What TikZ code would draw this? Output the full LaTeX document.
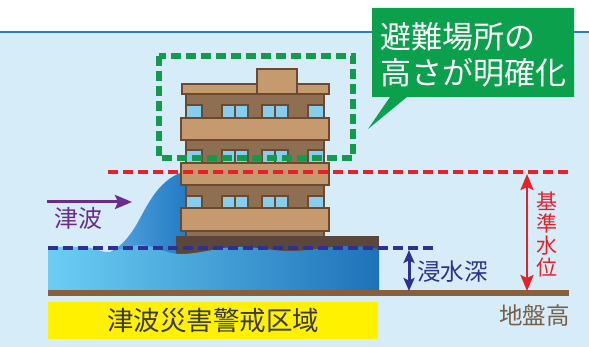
\documentclass[tikz,border=0pt]{standalone}
\usepackage{fontspec}
\newfontfamily\jp{Noto Sans CJK JP}
\usetikzlibrary{arrows.meta}
\definecolor{sky}{HTML}{D6ECF9}
\definecolor{topline}{HTML}{2A7EC7}
\definecolor{calloutgreen}{HTML}{0AA04C}
\definecolor{dashgreen}{HTML}{129B4A}
\definecolor{levelred}{HTML}{E8202A}
\definecolor{navy}{HTML}{2E3192}
\definecolor{wavepurple}{HTML}{6A2C8E}
\definecolor{ground}{HTML}{8B5E3C}
\definecolor{groundtext}{HTML}{76604A}
\definecolor{zone}{HTML}{FFF100}
\definecolor{zonetext}{HTML}{3A3A3A}
\definecolor{slabtan}{HTML}{C49A6E}
\definecolor{walltan}{HTML}{8E6F52}
\definecolor{edgebrown}{HTML}{6B4A32}
\definecolor{basebrown}{HTML}{5A463A}
\definecolor{glass}{HTML}{86CDEE}
\definecolor{waterL}{HTML}{6CCEF4}
\definecolor{waterR}{HTML}{1E72B9}
\definecolor{waveL}{HTML}{5AAAE2}
\definecolor{waveR}{HTML}{1B74BF}
\begin{document}
\begin{tikzpicture}[x=1pt,y=-1pt,
  slab/.style={fill=slabtan, draw=edgebrown, line width=2.8pt},
  wall/.style={fill=walltan, draw=edgebrown, line width=2.8pt},
  pane/.style={fill=glass, draw=edgebrown, line width=2.4pt},
  levelline/.style={line width=4.3pt, dash pattern=on 10pt off 5pt},
  label/.style={inner sep=0pt, font=\jp},
  tip/.style={-{Stealth[length=17pt,width=14pt,inset=3pt]}},
  redtips/.style={{Stealth[length=16pt,width=13pt,inset=3pt]}-{Stealth[length=16pt,width=13pt,inset=3pt]}},
  navytips/.style={{Stealth[length=13pt,width=11pt,inset=2.5pt]}-{Stealth[length=13pt,width=11pt,inset=2.5pt]}}]
\useasboundingbox (0,0) rectangle (589,347);
% sky and top rule
\fill[white] (0,0) rectangle (589,32);
\fill[sky] (0,32) rectangle (589,347);
\draw[topline, line width=2.8pt] (0,32) -- (589,32);

% breaking wave behind the building
\shade[left color=waveL, right color=waveR]
  (100,256) .. controls (116,252) and (128,240) .. (138,222)
  .. controls (149,202) and (160,178) .. (186,171)
  -- (200,171) -- (200,262) -- cycle;

% building
\draw[wall] (186,93) rectangle (324,237);
\draw[slab] (182,84) rectangle (329,94);
\draw[slab] (257,69) rectangle (297,94);
\foreach \t in {105,150,196}{
  \draw[pane] (186,\t) rectangle (202,\t+13);
  \draw[pane] (308,\t) rectangle (324,\t+13);
  \draw[pane] (222,\t) rectangle (248,\t+13);
  \draw[edgebrown, line width=1.8pt] (235,\t) -- (235,\t+13);
  \draw[pane] (262,\t) rectangle (288,\t+13);
  \draw[edgebrown, line width=1.8pt] (275,\t) -- (275,\t+13);
}
\draw[slab] (181,118) rectangle (329,140);
\draw[slab] (181,163) rectangle (329,185);
\draw[slab] (181,208) rectangle (329,231);
\fill[basebrown] (176,236) rectangle (379,262);

% flood water
\shade[left color=waterL, right color=waterR]
  (48,291) -- (48,247) -- (85,247)
  .. controls (95,248) and (100,252) .. (108,252)
  .. controls (118,252) and (126,245) .. (140,245)
  .. controls (155,245) and (165,254) .. (180,254)
  .. controls (200,254) and (215,248) .. (235,247)
  .. controls (255,246) and (270,251) .. (290,251)
  .. controls (310,251) and (330,246) .. (350,246)
  .. controls (365,246) and (372,248) .. (379,249)
  -- (379,291) -- cycle;

% ground
\coordinate (gl) at (48,293.5);
\coordinate (gr) at (569,293.5);
\draw[ground, line width=6pt] (gl) -- (gr);

% evacuation floors highlighted
\draw[dashgreen, line width=5.5pt, dash pattern=on 10pt off 5pt] (159,56) rectangle (353,158);

% reference water level and inundation depth lines
\coordinate (rl) at (108,172);
\coordinate (rr) at (572,172);
\draw[levelred, levelline] (rl) -- (rr);
\coordinate (nl) at (48,248);
\coordinate (nr) at (437,248);
\draw[navy, levelline, line width=4pt] (nl) -- (nr);

% dimension arrows
\coordinate (rt) at (527,174);
\coordinate (rb) at (527,291);
\draw[levelred, line width=2.4pt, redtips] (rt) -- (rb);
\coordinate (dt) at (409,250);
\coordinate (db) at (409,291);
\draw[navy, line width=3pt, navytips] (dt) -- (db);

% tsunami direction
\coordinate (ws) at (47,202);
\coordinate (we) at (132,202);
\draw[wavepurple, line width=3pt, tip] (ws) -- (we);
\node[label, text=wavepurple, anchor=west, font=\jp\fontsize{24}{24}\selectfont] (tsunami) at (54,218) {津波};

% labels
\node[label, text=levelred, align=center, font=\jp\fontsize{21}{21.7}\selectfont] (kijun) at (547,234.5) {基\\準\\水\\位};
\node[label, text=navy, anchor=west, font=\jp\fontsize{23.5}{23.5}\selectfont] (depth) at (417,272) {浸水深};
\node[label, text=groundtext, anchor=west, font=\jp\fontsize{23.5}{23.5}\selectfont] (gh) at (499,316) {地盤高};

% warning zone
\node[fill=zone, minimum width=330pt, minimum height=37pt, inner sep=0pt, anchor=north west] (zone) at (48,302) {};
\node[label, text=zonetext, font=\jp\fontsize{26.5}{26.5}\selectfont] (zonelabel) at (zone.center) {津波災害警戒区域};

% callout
\fill[calloutgreen] (372,8) -- (574,8) -- (574,97) -- (407,97) -- (368,129) -- (390,97) -- (372,97) -- cycle;
\node[label, text=white, anchor=west, font=\jp\fontsize{31}{31}\selectfont] (c1) at (380,37) {避難場所の};
\node[label, text=white, anchor=west, font=\jp\fontsize{31}{31}\selectfont] (c2) at (380,73) {高さが明確化};
\end{tikzpicture}
\end{document}
